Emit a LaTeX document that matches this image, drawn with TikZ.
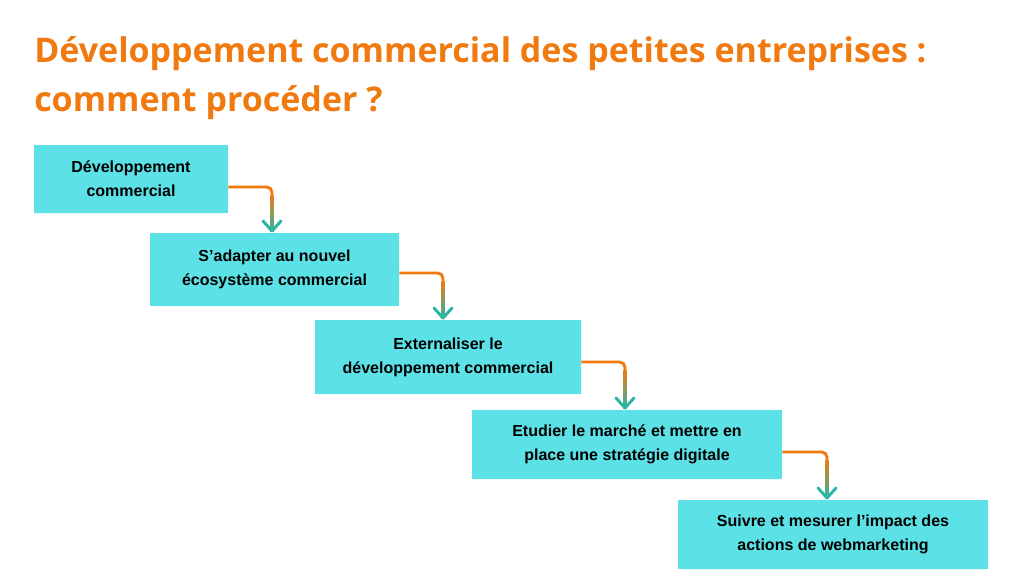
\documentclass[tikz,border=0pt]{standalone}
\usepackage{fontspec}
\setmainfont{Liberation Sans}
\newfontfamily\titlefont{Open Sans}
\usetikzlibrary{shapes.misc}
\definecolor{boxc}{HTML}{5CE1E6}
\definecolor{orng}{HTML}{F07A10}
\definecolor{tealc}{HTML}{2AB5A5}
\tikzset{
  stepbox/.style={chamfered rectangle, chamfered rectangle xsep=2cm, chamfer sep=...},
}
\tikzset{
  sbox/.style={fill=boxc, draw=none, rectangle, align=center, font=\bfseries\fontsize{12}{18}\selectfont, text=black, inner sep=0pt},
  conn/.style={draw=orng, line width=2.2pt, rounded corners=4pt},
  head/.style={draw=tealc, line width=2.2pt, line cap=round, line join=round}
}
\begin{document}
\begin{tikzpicture}[x=0.75pt,y=-0.75pt]
\useasboundingbox (0,0) rectangle (1012,581);
\fill[white] (0,0) rectangle (1012,581);
\node[anchor=base west, text=orng, font=\titlefont\bfseries\fontsize{25.5}{37}\selectfont, inner sep=0pt] (t1) at (34,63) {Développement commercial des petites entreprises :};
\node[anchor=base west, text=orng, font=\titlefont\bfseries\fontsize{25.5}{37}\selectfont, inner sep=0pt] (t2) at (34,112) {comment procéder ?};
\newcommand{\cbox}[6]{%
  \fill[boxc] (#2+3,#3) -- (#4-3,#3) -- (#4,#3+3) -- (#4,#5-3) -- (#4-3,#5) -- (#2+3,#5) -- (#2,#5-3) -- (#2,#3+3) -- cycle;
  \node[sbox, minimum width={(#4-#2)*0.75pt}, minimum height={(#5-#3)*0.75pt}] (#1) at ({(#2+#4)/2},{(#3+#5)/2}) {#6};}
\cbox{b1}{34}{145}{228}{213}{Développement\\commercial}
\cbox{b2}{150}{233}{399}{306}{S’adapter au nouvel\\écosystème commercial}
\cbox{b3}{315}{320}{581}{394}{Externaliser le\\développement commercial}
\cbox{b4}{472}{410}{782}{479}{Etudier le marché et mettre en\\place une stratégie digitale}
\cbox{b5}{678}{500}{988}{569}{Suivre et mesurer l’impact des\\actions de webmarketing}
\newcommand{\arr}[4]{% from, x, y, to
  \coordinate (s) at (#1.east |- 0,#3);
  \coordinate (k) at (#2,#3);
  \draw[conn] (s) -- (k) -- ++(0,14);
  \shade[top color=orng, bottom color=tealc] (#2-1.6,#3+8) rectangle (#2+1.6,{#4-2});
  \draw[head] (#2-9,#4-12) -- (#2,#4-2) -- (#2+9,#4-12);}
\arr{b1}{272}{187}{233}
\arr{b2}{443}{273}{320}
\arr{b3}{625}{362}{410}
\arr{b4}{827}{452}{500}
\end{tikzpicture}
\end{document}
